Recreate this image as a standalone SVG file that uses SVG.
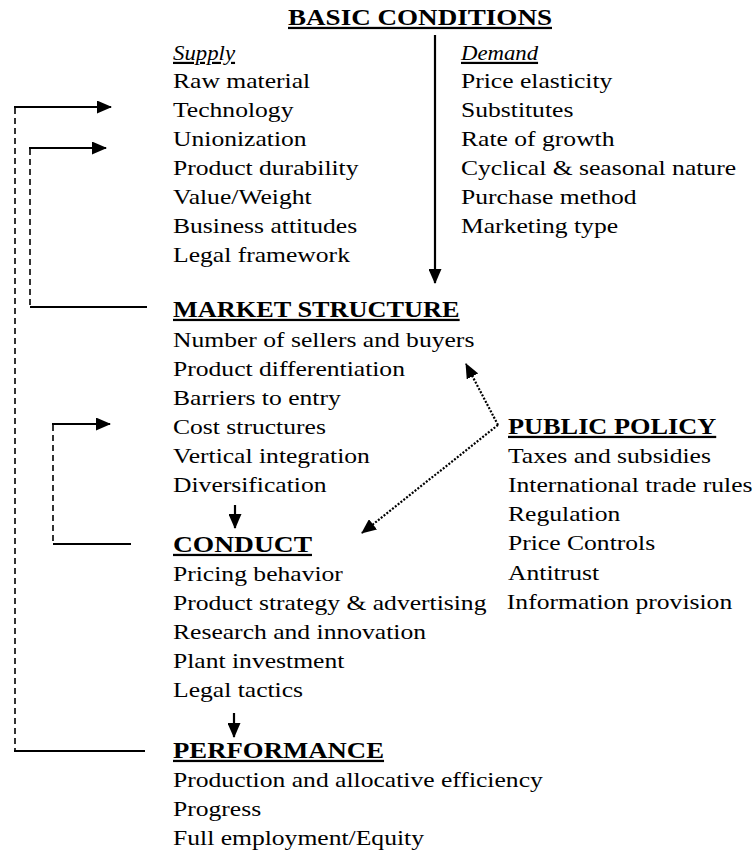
<svg xmlns="http://www.w3.org/2000/svg" width="756" height="860" viewBox="0 0 756 860">
<style>
  text{font-family:"Liberation Serif","Times New Roman",serif;font-size:22px;fill:#000}
  .h{font-weight:bold;font-size:22.6px;text-decoration:underline}
  .i{font-style:italic;text-decoration:underline}
  .solid{stroke:#000;stroke-width:2.2;fill:none}
  .dash{stroke:#000;stroke-width:1.6;stroke-dasharray:6 4;fill:none}
  .dot{stroke:#000;stroke-width:2.2;stroke-dasharray:2 1.6;fill:none}
</style>
<defs>
  <marker id="ah" viewBox="0 0 15 13" refX="14" refY="6.5" markerUnits="userSpaceOnUse" markerWidth="15" markerHeight="13" orient="auto">
    <path d="M0,0 L15,6.5 L0,13 z" fill="#000"/>
  </marker>
</defs>

<g id="basic-conditions">
  <g transform="translate(288 0) scale(1.164 1)">
    <text class="h" x="0" y="25" textLength="226.8" lengthAdjust="spacingAndGlyphs">BASIC CONDITIONS</text>
  </g>
  <g id="supply" transform="translate(173 0) scale(1.164 1)">
    <text class="i" x="0" y="60" textLength="53.3" lengthAdjust="spacingAndGlyphs">Supply</text>
    <text x="0" y="88">Raw material</text>
    <text x="0" y="117">Technology</text>
    <text x="0" y="146">Unionization</text>
    <text x="0" y="175">Product durability</text>
    <text x="0" y="204">Value/Weight</text>
    <text x="0" y="233">Business attitudes</text>
    <text x="0" y="262">Legal framework</text>
  </g>
  <g id="demand" transform="translate(461 0) scale(1.164 1)">
    <text class="i" x="0" y="60" textLength="66.2" lengthAdjust="spacingAndGlyphs">Demand</text>
    <text x="0" y="88">Price elasticity</text>
    <text x="0" y="117">Substitutes</text>
    <text x="0" y="146">Rate of growth</text>
    <text x="0" y="175">Cyclical &amp; seasonal nature</text>
    <text x="0" y="204">Purchase method</text>
    <text x="0" y="233">Marketing type</text>
  </g>
</g>

<g id="market-structure" transform="translate(173 0) scale(1.164 1)">
  <text class="h" x="0" y="317">MARKET STRUCTURE</text>
  <text x="0" y="347">Number of sellers and buyers</text>
  <text x="0" y="376">Product differentiation</text>
  <text x="0" y="405">Barriers to entry</text>
  <text x="0" y="434">Cost structures</text>
  <text x="0" y="463">Vertical integration</text>
  <text x="0" y="492">Diversification</text>
</g>

<g id="conduct" transform="translate(173 0) scale(1.164 1)">
  <text class="h" x="0" y="552" textLength="119.4" lengthAdjust="spacingAndGlyphs">CONDUCT</text>
  <text x="0" y="581">Pricing behavior</text>
  <text x="0" y="610">Product strategy &amp; advertising</text>
  <text x="0" y="639">Research and innovation</text>
  <text x="0" y="668">Plant investment</text>
  <text x="0" y="697">Legal tactics</text>
</g>

<g id="performance" transform="translate(173 0) scale(1.164 1)">
  <text class="h" x="0" y="758" textLength="181.3" lengthAdjust="spacingAndGlyphs">PERFORMANCE</text>
  <text x="0" y="787">Production and allocative efficiency</text>
  <text x="0" y="816">Progress</text>
  <text x="0" y="845">Full employment/Equity</text>
</g>

<g id="public-policy" transform="translate(508 0) scale(1.164 1)">
  <text class="h" x="0" y="434">PUBLIC POLICY</text>
  <text x="0" y="463">Taxes and subsidies</text>
  <text x="0" y="492">International trade rules</text>
  <text x="0" y="521">Regulation</text>
  <text x="0" y="550">Price Controls</text>
  <text x="0" y="580">Antitrust</text>
  <text x="-1" y="609">Information provision</text>
</g>

<g id="connectors">
  <line class="solid" x1="435" y1="35" x2="435" y2="283" marker-end="url(#ah)" stroke-width="2.5"/>
  <line class="solid" x1="235" y1="505" x2="235" y2="528" marker-end="url(#ah)"/>
  <line class="solid" x1="234" y1="713" x2="234" y2="737" marker-end="url(#ah)"/>
  <path class="dot" d="M498,425 L466,364" marker-end="url(#ah)"/>
  <path class="dot" d="M498,425 L362,533" marker-end="url(#ah)"/>
  <!-- outer feedback: performance to technology -->
  <line class="dash" x1="15" y1="108" x2="15" y2="751"/>
  <line class="solid" x1="14" y1="107" x2="111" y2="107" marker-end="url(#ah)"/>
  <line class="solid" x1="14" y1="751" x2="145" y2="751"/>
  <!-- market structure to unionization -->
  <line class="dash" x1="30" y1="149" x2="30" y2="307"/>
  <line class="solid" x1="29" y1="148" x2="106" y2="148" marker-end="url(#ah)"/>
  <line class="solid" x1="30" y1="307" x2="147" y2="307"/>
  <!-- conduct to cost structures -->
  <line class="dash" x1="53" y1="425" x2="53" y2="544"/>
  <line class="solid" x1="52" y1="424" x2="110" y2="424" marker-end="url(#ah)"/>
  <line class="solid" x1="53" y1="544" x2="131" y2="544"/>
</g>
</svg>
